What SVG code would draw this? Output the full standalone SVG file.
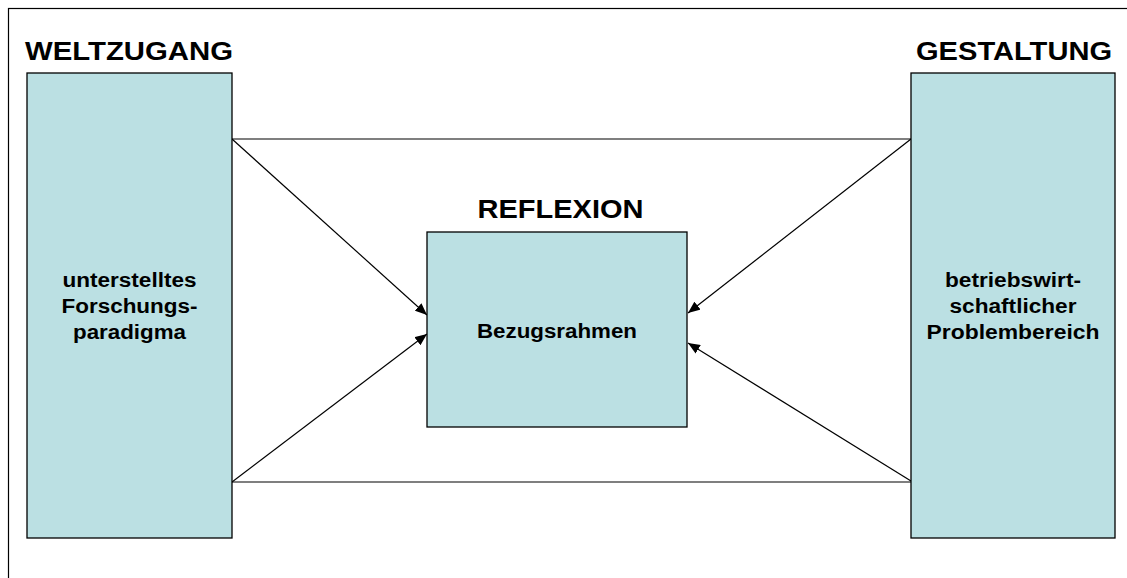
<svg xmlns="http://www.w3.org/2000/svg" width="1127" height="578" viewBox="0 0 1127 578">
<style>
.box{fill:#BBE0E3;stroke:#000;stroke-width:1.3}
.ttl{font-family:"Liberation Sans",Arial,sans-serif;font-weight:bold;font-size:26px;fill:#000}
.lbl{font-family:"Liberation Sans",Arial,sans-serif;font-weight:bold;font-size:20px;fill:#000;text-anchor:middle}
.ln{stroke:#000;stroke-width:1.2;fill:none}
</style>
<defs>
<marker id="arr" viewBox="0 0 12 10" refX="12" refY="5" markerWidth="12" markerHeight="10" markerUnits="userSpaceOnUse" orient="auto">
<path d="M0,0 L12,5 L0,10 z" fill="#000"/>
</marker>
</defs>
<rect x="0" y="0" width="1127" height="578" fill="#fff"/>
<rect x="8.5" y="8.5" width="1140" height="600" fill="none" stroke="#000" stroke-width="1.2"/>
<g id="connectors">
<line class="ln" x1="232" y1="139" x2="911" y2="139"/>
<line class="ln" x1="232" y1="482" x2="911" y2="482"/>
<line class="ln" x1="232" y1="139" x2="427" y2="315" marker-end="url(#arr)"/>
<line class="ln" x1="232" y1="482" x2="427" y2="334" marker-end="url(#arr)"/>
<line class="ln" x1="911" y1="139" x2="688" y2="313" marker-end="url(#arr)"/>
<line class="ln" x1="911" y1="481" x2="688" y2="343" marker-end="url(#arr)"/>
</g>
<g id="weltzugang">
<text class="ttl" x="25" y="60" textLength="208" lengthAdjust="spacingAndGlyphs">WELTZUGANG</text>
<rect class="box" x="27" y="73" width="205" height="465"/>
<text class="lbl" x="129.5" y="287" textLength="134" lengthAdjust="spacingAndGlyphs">unterstelltes</text>
<text class="lbl" x="129.5" y="313" textLength="136" lengthAdjust="spacingAndGlyphs">Forschungs-</text>
<text class="lbl" x="129.5" y="339" textLength="113" lengthAdjust="spacingAndGlyphs">paradigma</text>
</g>
<g id="gestaltung">
<text class="ttl" x="916" y="60" textLength="196" lengthAdjust="spacingAndGlyphs">GESTALTUNG</text>
<rect class="box" x="911" y="73" width="204" height="465"/>
<text class="lbl" x="1013" y="287" textLength="136" lengthAdjust="spacingAndGlyphs">betriebswirt-</text>
<text class="lbl" x="1013" y="313" textLength="127" lengthAdjust="spacingAndGlyphs">schaftlicher</text>
<text class="lbl" x="1013" y="339" textLength="173" lengthAdjust="spacingAndGlyphs">Problembereich</text>
</g>
<g id="reflexion">
<text class="ttl" x="477.5" y="218" textLength="166" lengthAdjust="spacingAndGlyphs">REFLEXION</text>
<rect class="box" x="427" y="232" width="260" height="195"/>
<text class="lbl" x="557" y="338" textLength="160" lengthAdjust="spacingAndGlyphs">Bezugsrahmen</text>
</g>
</svg>
